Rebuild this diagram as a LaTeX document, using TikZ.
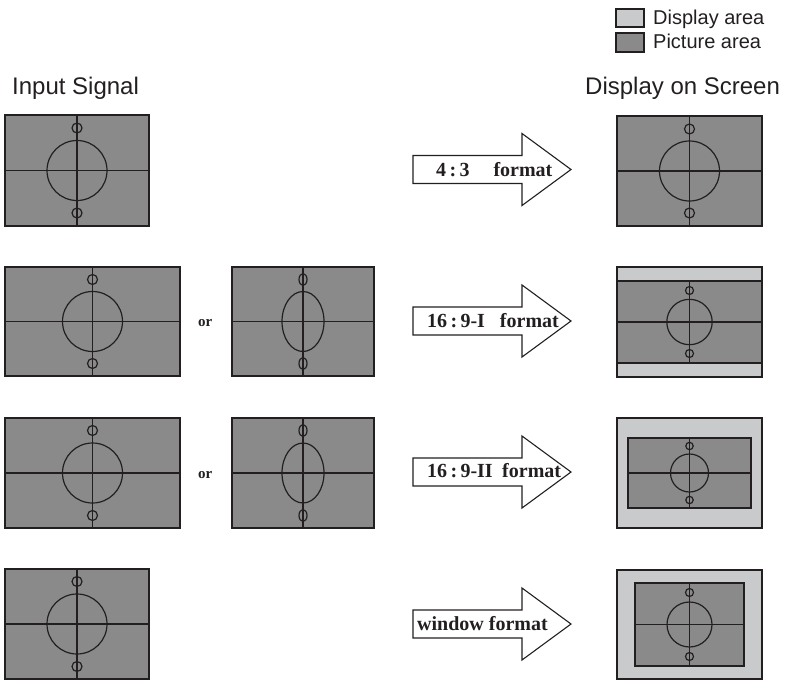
\documentclass[tikz,border=0pt]{standalone}
\usepackage{fontspec}
\newfontfamily\arialfont{Liberation Sans}
\newfontfamily\timesfont{Liberation Serif}
\definecolor{piccol}{RGB}{138,138,138}
\definecolor{dispcol}{RGB}{201,202,204}
\definecolor{ink}{RGB}{35,31,32}
\newcommand\tvpic[9]{%
  \pgfmathsetmacro\tvcx{(#1+#3)/2}%
  \pgfmathsetmacro\tvcy{(#2+#4)/2}%
  \filldraw[picbox] (#1,#2) rectangle (#3,#4);
  \draw[tvline] (#1,\tvcy) -- (#3,\tvcy);
  \draw[tvline] (\tvcx,#2) -- (\tvcx,#4);
  \draw[tvline] (\tvcx,\tvcy) ellipse [x radius=#5pt, y radius=#6pt];
  \draw[tvline] (\tvcx,\tvcy-#7) ellipse [x radius=#8pt, y radius=#9pt];
  \draw[tvline] (\tvcx,\tvcy+#7) ellipse [x radius=#8pt, y radius=#9pt];
}
\newcommand\fmtarrow[1]{%
  \draw[arrowshape] (413,#1-14) -- (522,#1-14) -- (522,#1-36) -- (571,#1)
    -- (522,#1+36) -- (522,#1+14) -- (413,#1+14) -- cycle;
}
\begin{document}
\begin{tikzpicture}[x=1pt,y=-1pt,
  picbox/.style={fill=piccol, draw=ink, line width=1.3pt},
  dispbox/.style={fill=dispcol, draw=ink, line width=1.3pt},
  tvline/.style={draw=ink, line width=1.2pt},
  arrowshape/.style={fill=white, draw=ink, line width=1.1pt, line join=miter},
  lbl/.style={font=\timesfont\bfseries\fontsize{20}{20}\selectfont, text=ink, inner sep=0, anchor=base west},
  orlbl/.style={font=\timesfont\bfseries\fontsize{15}{15}\selectfont, text=ink, inner sep=0, anchor=base west},
  hdr/.style={font=\arialfont\fontsize{24}{24}\selectfont, text=ink, inner sep=0, anchor=base west},
  leg/.style={font=\arialfont\fontsize{20}{20}\selectfont, text=ink, inner sep=0, anchor=base west}]
\useasboundingbox (0,0) rectangle (792,680);

% legend
\filldraw[dispbox] (616,9) rectangle (644,27);
\filldraw[picbox] (616,33) rectangle (644,52);
\node[leg] (legdisp) at (653,24) {Display area};
\node[leg] (legpic) at (653,48) {Picture area};

% headers
\node[hdr] (hin) at (12,94) {Input Signal};
\node[hdr] (hout) at (585,94) {Display on Screen};

% row 1
\tvpic{5}{115}{149}{226}{30}{30}{42.5}{5}{5}
\fmtarrow{169.5}
\node[lbl] (t1) at (436,176) {4\,:\,3\hspace{24pt}format};
\tvpic{617}{116}{762}{226}{30}{30}{42}{5}{5}

% row 2
\tvpic{5}{267}{180}{376}{30}{30}{42}{5}{5}
\node[orlbl] (or1) at (198,326) {or};
\tvpic{232}{267}{374}{376}{21}{30}{42}{4}{6}
\fmtarrow{321}
\node[lbl] (t2) at (427,327) {16\,:\,9-I\hspace{15pt}format};
\filldraw[dispbox] (617,267) rectangle (762,377);
\tvpic{617}{281}{762}{363}{22.7}{22.7}{31.5}{4}{4}

% row 3
\tvpic{5}{418}{180}{528}{30}{30}{42.5}{5}{5}
\node[orlbl] (or2) at (198,478) {or};
\tvpic{232}{418}{374}{528}{21}{30}{42.5}{4}{6}
\fmtarrow{472}
\node[lbl] (t3) at (427,477) {16\,:\,9-II\hspace{9.5pt}format};
\filldraw[dispbox] (617,418) rectangle (762,528);
\tvpic{628}{438}{751}{508}{19}{19}{27}{3.7}{3.7}

% row 4
\tvpic{5}{569}{149}{679}{30}{30}{42.5}{5}{5}
\fmtarrow{624}
\node[lbl] (t4) at (417,630) {window format};
\filldraw[dispbox] (617,570) rectangle (762,679);
\tvpic{635}{583}{744}{666}{22.5}{22.5}{32}{4}{4}
\end{tikzpicture}
\end{document}
